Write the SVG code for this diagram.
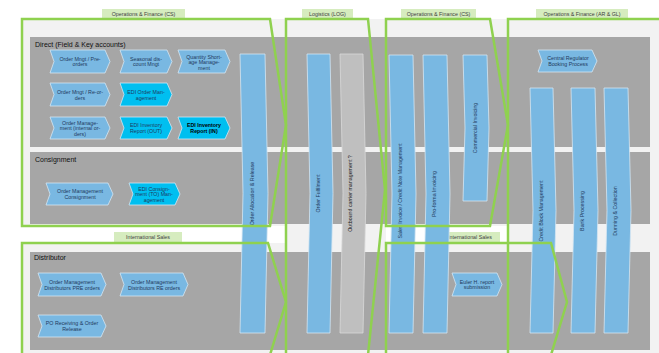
<svg xmlns="http://www.w3.org/2000/svg" width="659" height="353" viewBox="0 0 659 353">
<style>
.lane{fill:#a6a6a6}
.ch{fill:#79b8e2;stroke:#d4e6f3;stroke-width:0.8}
.edi{fill:#00bff0;stroke:#d4e6f3;stroke-width:0.8}
.bar{fill:#79b8e2;stroke:#d4e6f3;stroke-width:0.8}
.gbar{fill:#bfbfbf;stroke:#d9d9d9;stroke-width:0.8}
.hd{fill:#d6ecbf}
.grn{fill:none;stroke:#8fd14f;stroke-width:2.5;stroke-linejoin:miter}
text{font-family:"Liberation Sans",Arial,sans-serif}
.t{font-size:5.3px;fill:#1f3a60;text-anchor:middle}
.tb{font-size:5.3px;fill:#000;text-anchor:middle;font-weight:bold}
.tk{font-size:5.3px;fill:#222;text-anchor:middle}
.ht{font-size:5.3px;fill:#404040;text-anchor:middle}
.ln{font-size:7px;fill:#111}
</style>
<rect x="0" y="0" width="659" height="353" fill="#ffffff"/>
<rect x="22" y="19" width="637" height="334" fill="#f2f2f2"/>
<rect x="22" y="226" width="264" height="17" fill="#ffffff"/>
<rect x="386" y="226" width="122" height="17" fill="#ffffff"/>

<g id="lanes">
<rect class="lane" x="30" y="37" width="620" height="110"/>
<rect class="lane" x="30" y="152" width="620" height="72"/>
<rect class="lane" x="30" y="252" width="620" height="98"/>
<text class="ln" x="35" y="46.5">Direct (Field &amp; Key accounts)</text>
<text class="ln" x="35" y="162">Consignment</text>
<text class="ln" x="34" y="259.5">Distributor</text>
</g>

<g id="headers">
<rect class="hd" x="102" y="9" width="83" height="10"/><text class="ht" x="143.5" y="16">Operations &amp; Finance (CS)</text>
<rect class="hd" x="302" y="9" width="51" height="10"/><text class="ht" x="327.5" y="16">Logistics (LOG)</text>
<rect class="hd" x="401" y="9" width="75" height="10"/><text class="ht" x="438.5" y="16">Operations &amp; Finance (CS)</text>
<rect class="hd" x="536" y="9" width="92" height="10"/><text class="ht" x="582" y="16">Operations &amp; Finance (AR &amp; GL)</text>
<rect class="hd" x="114" y="232" width="68" height="10"/><text class="ht" x="148" y="239">International Sales</text>
<rect class="hd" x="440" y="232" width="60" height="10"/><text class="ht" x="470" y="239">International Sales</text>
</g>

<g id="n1"><polygon class="ch" points="50,50 105,50 110,61.5 105,73 50,73 54,61.5"/><text class="t" x="80" y="60.5">Order Mngt / Pre-</text><text class="t" x="80" y="66.3">orders</text></g>
<g id="n2"><polygon class="ch" points="120,50 167,50 172,61.5 167,73 120,73 124,61.5"/><text class="t" x="146" y="60.5">Seasonal dis-</text><text class="t" x="146" y="66.3">count Mngt</text></g>
<g id="n3"><polygon class="ch" points="178,50 225,50 230,61.5 225,73 178,73 182,61.5"/><text class="t" x="204" y="58.5">Quantity Short-</text><text class="t" x="204" y="64.2">age Manage-</text><text class="t" x="204" y="69.8">ment</text></g>
<g id="n4"><polygon class="ch" points="50,83 105,83 110,94.5 105,106 50,106 54,94.5"/><text class="t" x="80" y="94">Order Mngt / Re-or-</text><text class="t" x="80" y="99.8">ders</text></g>
<g id="n5"><polygon class="edi" points="120,83 167,83 172,94.5 167,106 120,106 124,94.5"/><text class="t" x="146" y="94">EDI Order Man-</text><text class="t" x="146" y="99.8">agement</text></g>
<g id="n6"><polygon class="ch" points="50,117 105,117 110,128 105,139 50,139 54,128"/><text class="t" x="80" y="124.5">Order Manage-</text><text class="t" x="80" y="130">ment (internal or-</text><text class="t" x="80" y="135.5">ders)</text></g>
<g id="n7"><polygon class="edi" points="120,117 167,117 172,128 167,139 120,139 124,128"/><text class="t" x="146" y="127.2">EDI Inventory</text><text class="t" x="146" y="132.6">Report (OUT)</text></g>
<g id="n8"><polygon class="edi" points="178,117 225,117 230,128 225,139 178,139 182,128"/><text class="tb" x="204" y="127.2">EDI Inventory</text><text class="tb" x="204" y="132.6">Report (IN)</text></g>
<g id="n9"><polygon class="ch" points="46,183 108,183 113,194 108,205 46,205 50,194"/><text class="t" x="80" y="192.8">Order Management</text><text class="t" x="80" y="198.8">Consignment</text></g>
<g id="n10"><polygon class="edi" points="129,183 175,183 180,194 175,205 129,205 133,194"/><text class="t" x="154" y="190.8">EDI Consign-</text><text class="t" x="154" y="196.2">ment (TO) Man-</text><text class="t" x="154" y="201.8">agement</text></g>
<g id="n11"><polygon class="ch" points="38,273 101,273 106,284.5 101,296 38,296 42,284.5"/><text class="t" x="72" y="284">Order Management</text><text class="t" x="72" y="289.6">Distributors PRE orders</text></g>
<g id="n12"><polygon class="ch" points="120,273 183,273 188,284.5 183,296 120,296 124,284.5"/><text class="t" x="154" y="284">Order Management</text><text class="t" x="154" y="289.6">Distributors RE orders</text></g>
<g id="n13"><polygon class="ch" points="38,315 101,315 106,326 101,337 38,337 42,326"/><text class="t" x="72" y="325">PO Receiving &amp; Order</text><text class="t" x="72" y="330.8">Release</text></g>
<g id="n14"><polygon class="ch" points="452,273 497,273 502,284.5 497,296 452,296 456,284.5"/><text class="t" x="477" y="283.5">Euler H. report</text><text class="t" x="477" y="289.2">submission</text></g>
<g id="n15"><polygon class="ch" points="538,50 592,50 597,61 592,72 538,72 542,61"/><text class="t" x="568" y="60">Central Regulator</text><text class="t" x="568" y="65.8">Booking Process</text></g>

<g id="b1"><polygon class="bar" points="240,54 265,54 268,193.5 265,333 240,333 243,193.5"/><text class="t" transform="translate(254,193.5) rotate(-90)">Order Allocation &amp; Release</text></g>
<g id="b2"><polygon class="bar" points="307,54 330,54 333,193.5 330,333 307,333 310,193.5"/><text class="t" transform="translate(320,193.5) rotate(-90)">Order Fulfilment</text></g>
<g id="b3"><polygon class="gbar" points="340,54 363,54 366,193.5 363,333 340,333 343,193.5"/><text class="tk" transform="translate(352,193.5) rotate(-90)">Outbound carrier management ?</text></g>
<g id="b4"><polygon class="bar" points="389,55 413,55 416,194 413,333 389,333 392,194"/><text class="t" transform="translate(401.5,191) rotate(-90)">Sales Invoice / Credit Note Management</text></g>
<g id="b5"><polygon class="bar" points="423,55 447,55 450,194 447,333 423,333 426,194"/><text class="t" transform="translate(435.5,194) rotate(-90)">Pro-forma Invoicing</text></g>
<g id="b6"><polygon class="bar" points="463,55 487,55 489,128 487,201 463,201 465,128"/><text class="t" transform="translate(476.5,128) rotate(-90)">Commercial Invoicing</text></g>
<g id="b7"><polygon class="bar" points="530,88 553,88 556,210.5 553,333 530,333 533,210.5"/><text class="t" transform="translate(543,211) rotate(-90)">Credit Block Management</text></g>
<g id="b8"><polygon class="bar" points="571,88 595,88 598,210.5 595,333 571,333 574,210.5"/><text class="t" transform="translate(584,211) rotate(-90)">Bank Processing</text></g>
<g id="b9"><polygon class="bar" points="604,88 628,88 631,210.5 628,333 604,333 607,210.5"/><text class="t" transform="translate(617,211) rotate(-90)">Dunning &amp; Collection</text></g>

<g id="connectors">
<polygon class="grn" points="22,19 270,19 286,125 270,226 22,226"/>
<polyline class="grn" points="22,355 22,243 268,243 286,302 270,355"/>
<polyline class="grn" points="286,355 286,19 368,19 385,190 368,355"/>
<polygon class="grn" points="386,19 490,19 508,125 490,226 386,226"/>
<polyline class="grn" points="386,355 386,243 551,243 567,302 551,355"/>
<polyline class="grn" points="508,355 508,19 662,19"/>
</g>
</svg>
